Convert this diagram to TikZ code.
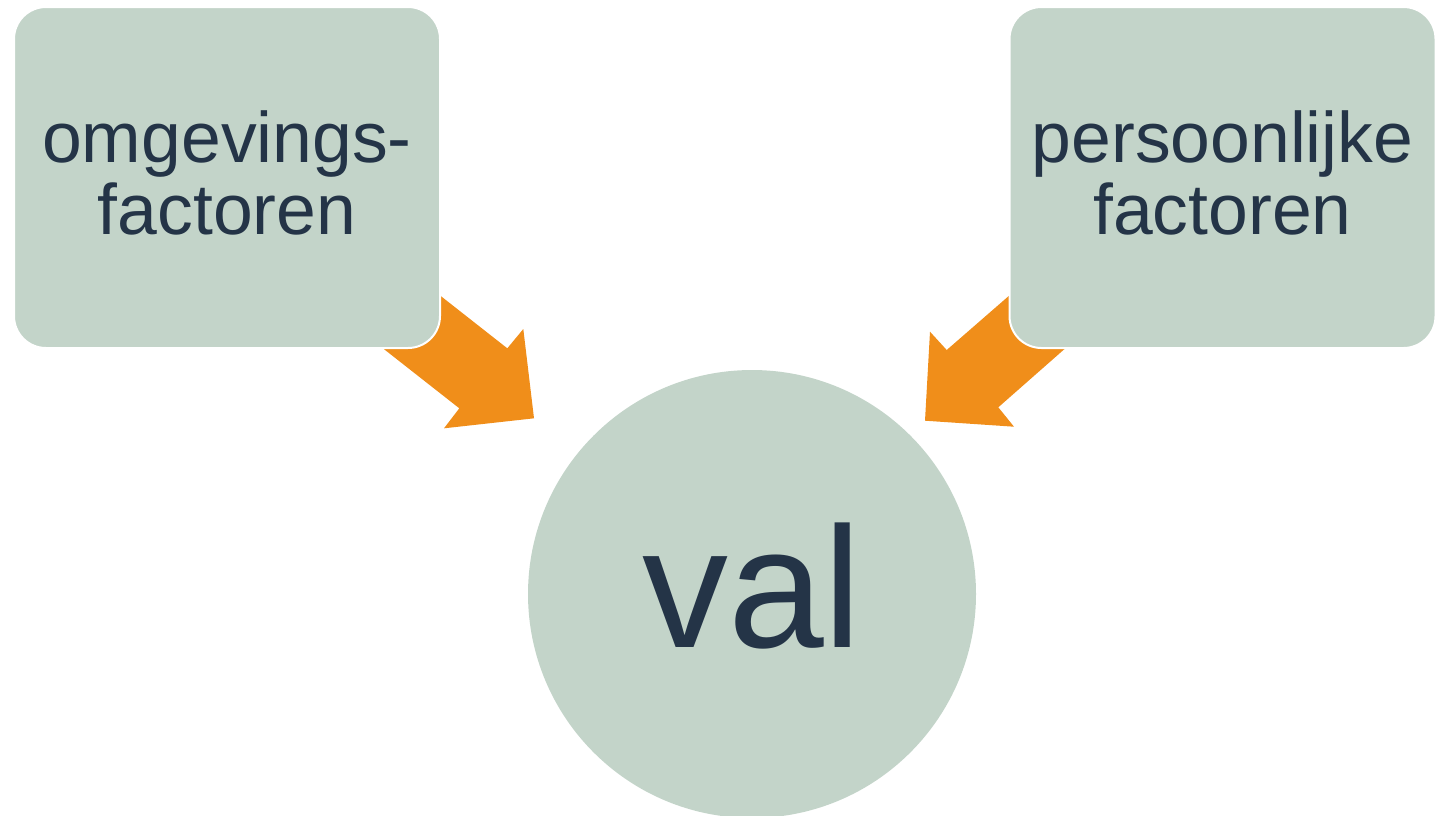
\documentclass[tikz,border=0pt]{standalone}
\usepackage{fontspec}
\setmainfont{Liberation Sans}
\definecolor{boxfill}{RGB}{195,212,201}
\definecolor{txt}{RGB}{36,52,71}
\definecolor{arr}{RGB}{240,142,26}
\begin{document}
\begin{tikzpicture}[x=1pt,y=-1pt,
  factorbox/.style={rectangle, rounded corners=32pt, fill=boxfill, draw=white, line width=2pt,
    minimum width=426pt, minimum height=341pt, inner sep=0pt},
  boxtext/.style={text=txt, align=center, font=\fontsize{71.5}{72}\selectfont, inner sep=0pt},
  blockarrow/.style={fill=arr, draw=none},
  bigcircle/.style={circle, fill=boxfill, minimum size=448pt, inner sep=0pt}]
\useasboundingbox (0,0) rectangle (1447,815);
% arrows (behind the boxes)
\fill[blockarrow] (394.5,259.7) -- (507.3,348.3) -- (523.3,329) -- (534,418.3) -- (444,428.3) -- (459.3,408.3) -- (338,313) -- cycle;
\fill[blockarrow] (1053.3,257.2) -- (946.7,350) -- (930,331.7) -- (925,420.7) -- (1014,426.7) -- (998.3,407.3) -- (1108.3,310.5) -- cycle;
% boxes
\node[factorbox] (lbox) at (227,177.5) {};
\node[factorbox] (rbox) at (1222.5,177.5) {};
\node[boxtext] (ltext) at (227,173.4) {omgevings-\\factoren};
\node[boxtext] (rtext) at (1222.5,173.4) {persoonlijke\\factoren};
% circle
\node[bigcircle] (val) at (752,594) {};
\node[text=txt, font=\fontsize{172}{180}\selectfont, inner sep=0pt, anchor=base] (valtext) at (752,647.7) {val};
\end{tikzpicture}
\end{document}
